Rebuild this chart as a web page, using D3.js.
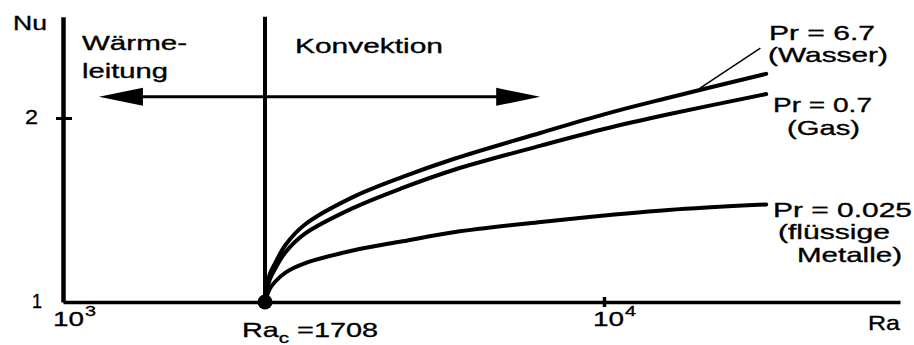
<!DOCTYPE html>
<html>
<head>
<meta charset="utf-8">
<script src="https://cdn.jsdelivr.net/npm/d3@7"></script>
<style>
  html, body { margin: 0; padding: 0; background: #fff; }
  svg { display: block; }
  text { font-family: "Liberation Sans", Arial, Helvetica, sans-serif; fill: #000; stroke: #000; stroke-width: 0.35px; }
</style>
</head>
<body>
<svg id="chart" width="914" height="345"></svg>
<script>
// ---- data ----
const ra = [1708, 1750, 1800, 1900, 2100, 2700, 3500, 4600, 7200, 10000, 14000, 23300];
const nuWasser = [1.00, 1.15, 1.21, 1.31, 1.42, 1.57, 1.68, 1.78, 1.92, 2.02, 2.11, 2.24];
const nuGas    = [1.00, 1.12, 1.18, 1.27, 1.37, 1.51, 1.62, 1.72, 1.85, 1.94, 2.02, 2.13];
const nuMetall = [1.00, 1.07, 1.11, 1.16, 1.21, 1.28, 1.33, 1.38, 1.435, 1.47, 1.50, 1.53];
const seriesNames = ["Pr = 6.7", "Pr = 0.7", "Pr = 0.025"];
const seriesNotes = [["(Wasser)"], ["(Gas)"], ["(flüssige", "Metalle)"]];
const raCrit = 1708;
const xTickValues = [1000, 10000];
const xTickExponents = ["3", "4"];
const yTickValues = [1, 2];

// ---- scales ----
const svg = d3.select("#chart");
const x = d3.scaleLog()
  .domain([1000, raCrit, 10000, 46800])
  .range([63, 265, 604, 900]);
const y = d3.scaleLinear().domain([1, 2.55]).range([302, 16.8]);

const FS = 21;
function label(txt, xp, yb, len, anchor) {
  const t = svg.append("text")
    .attr("x", xp).attr("y", yb)
    .attr("font-size", FS)
    .attr("text-anchor", anchor || "start")
    .text(txt);
  if (len) t.attr("textLength", len).attr("lengthAdjust", "spacingAndGlyphs");
  return t;
}

// ---- axes ----
const yAxis = d3.axisLeft(y).tickValues(yTickValues).tickSize(0).tickFormat("");
const gy = svg.append("g").attr("transform", `translate(${x(1000)},0)`).call(yAxis);
gy.select(".domain").attr("stroke", "#000").attr("stroke-width", 4.5);
gy.selectAll(".tick").filter(d => d === 2).append("line")
  .attr("x1", -7).attr("x2", 9).attr("stroke", "#000").attr("stroke-width", 3);

const xAxis = d3.axisBottom(x).tickValues(xTickValues).tickSize(0).tickFormat("");
const gx = svg.append("g").attr("transform", `translate(0,${y(1)})`).call(xAxis);
gx.select(".domain").attr("stroke", "#000").attr("stroke-width", 3.5);
gx.selectAll(".tick").filter(d => d === 10000).append("line")
  .attr("y1", -5).attr("y2", 5).attr("stroke", "#000").attr("stroke-width", 3.5);

// y tick labels
label("2", x(1000) - 25, y(2) + 6, 13, "end");
label("1", x(1000) - 21, y(1) + 6, 10, "end");
label("Nu", 13, 30, 34);

// x tick labels
xTickValues.forEach((v, i) => {
  const bx = x(v) + (v === 1000 ? -10 : -11);
  label("10", bx, 326, 31);
  svg.append("text").attr("x", bx + 32).attr("y", 316)
    .attr("font-size", 15).attr("textLength", 11).attr("lengthAdjust", "spacingAndGlyphs")
    .text(xTickExponents[i]);
});
label("Ra", 900, 330, 32, "end");

// Ra_c label
const rc = svg.append("text").attr("x", x(raCrit) - 23).attr("y", 337)
  .attr("font-size", FS).attr("textLength", 136).attr("lengthAdjust", "spacingAndGlyphs");
rc.append("tspan").text("Ra");
rc.append("tspan").attr("dy", 6).attr("font-size", 15).text("c");
rc.append("tspan").attr("dy", -6).text(" =1708");

// vertical line at Ra_c
svg.append("line")
  .attr("x1", x(raCrit)).attr("x2", x(raCrit))
  .attr("y1", y(2.55)).attr("y2", y(1))
  .attr("stroke", "#000").attr("stroke-width", 4);

// region labels and arrow
label("Wärme-", 82, 50, 105);
label("leitung", 82, 78, 86);
label("Konvektion", 295, 53, 148);

const arrowNu = 2.115;
const arrowL = 1100, arrowR = 7170;
const ay = y(arrowNu);
svg.append("line")
  .attr("x1", x(arrowL) + 30).attr("x2", x(arrowR) - 30)
  .attr("y1", ay).attr("y2", ay)
  .attr("stroke", "#000").attr("stroke-width", 3);
const headLen = 44, headHalf = 9;
svg.append("path")
  .attr("d", `M${x(arrowL)},${ay} L${x(arrowL) + headLen},${ay - headHalf} L${x(arrowL) + headLen},${ay + headHalf} Z`)
  .attr("fill", "#000");
svg.append("path")
  .attr("d", `M${x(arrowR)},${ay} L${x(arrowR) - headLen},${ay - headHalf} L${x(arrowR) - headLen},${ay + headHalf} Z`)
  .attr("fill", "#000");

// ---- curves ----
const line = d3.line().x(d => x(d[0])).y(d => y(d[1])).curve(d3.curveCatmullRom.alpha(0.5));
[nuWasser, nuGas, nuMetall].forEach(vals => {
  svg.append("path")
    .datum(ra.map((r, i) => [r, vals[i]]))
    .attr("d", line)
    .attr("fill", "none")
    .attr("stroke", "#000")
    .attr("stroke-width", 4)
    .attr("stroke-linecap", "round");
});

// leader line for Pr = 6.7
svg.append("line")
  .attr("x1", x(16500)).attr("y1", y(2.163))
  .attr("x2", x(22600)).attr("y2", y(2.38))
  .attr("stroke", "#000").attr("stroke-width", 1.5);

// critical point
svg.append("circle").attr("cx", x(raCrit)).attr("cy", y(1)).attr("r", 7.5).attr("fill", "#000");

// series labels
const labelPos = [
  { ys: [40, 62], w: [106, 120], xs: [769, 768] },
  { ys: [112, 135], w: [99, 73], xs: [773, 787] },
  { ys: [217, 239, 262], w: [139, 112, 105], xs: [773, 778, 797] }
];
seriesNames.forEach((name, i) => {
  const p = labelPos[i];
  label(name, p.xs[0], p.ys[0], p.w[0]);
  seriesNotes[i].forEach((n, j) => label(n, p.xs[j + 1], p.ys[j + 1], p.w[j + 1]));
});
</script>
</body>
</html>
